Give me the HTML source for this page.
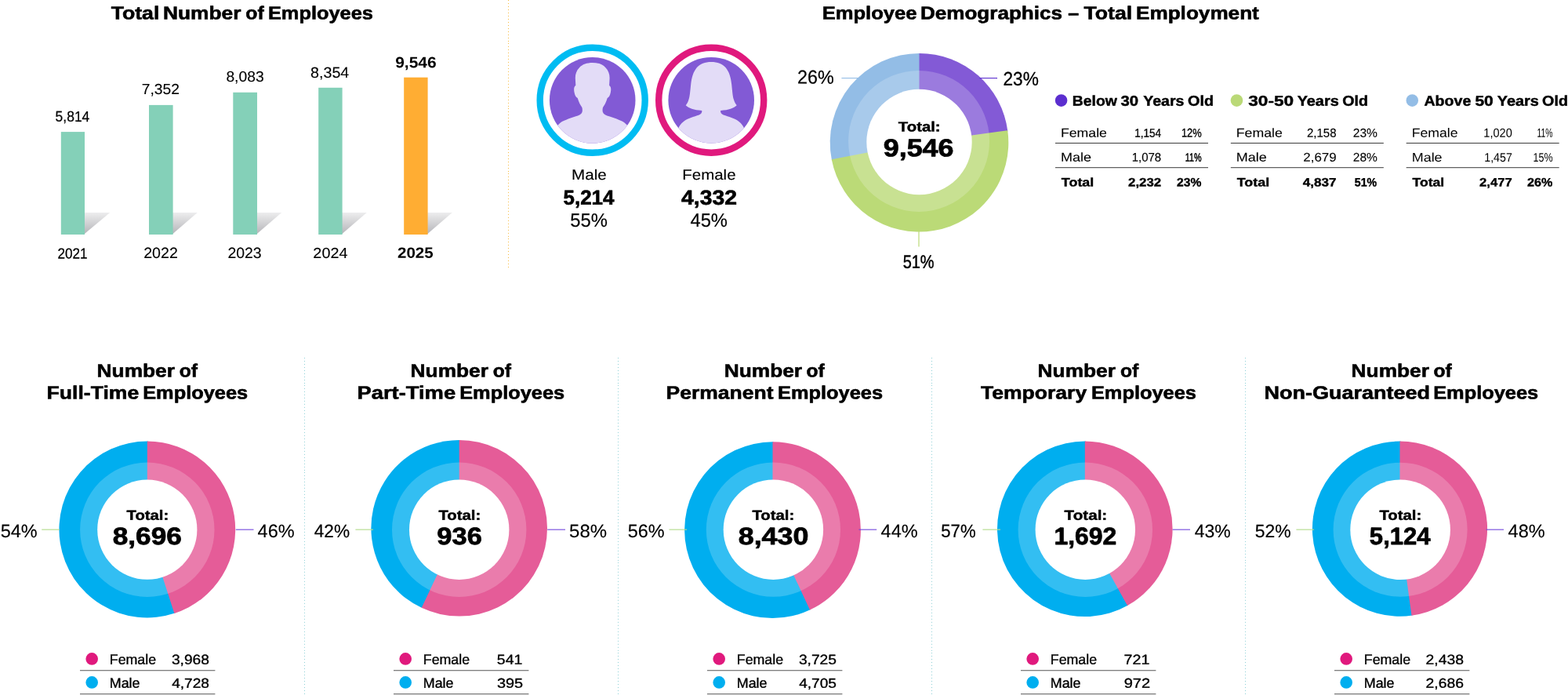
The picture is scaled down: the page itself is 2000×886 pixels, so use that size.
<!DOCTYPE html>
<html lang="en">
<head>
<meta charset="utf-8">
<title>Employee Demographics</title>
<style>
html,body{margin:0;padding:0;background:#fff;}
body{width:2000px;height:886px;overflow:hidden;}
svg{display:block;}
text{font-family:"Liberation Sans",sans-serif;fill:#000;}
</style>
</head>
<body>
<svg width="2000" height="886" viewBox="0 0 2000 886">
<defs>
<linearGradient id="sh" x1="0" y1="0" x2="0" y2="1">
<stop offset="0" stop-color="#EDEDEE"/>
<stop offset="1" stop-color="#B4B4B8"/>
</linearGradient>
</defs>
<rect width="2000" height="886" fill="#fff"/>
<polygon points="107,271 140.3,271 107,298.7" fill="url(#sh)"/>
<rect x="77.8" y="168.1" width="30.2" height="130.9" fill="#84D0B8"/>
<polygon points="219.6,271 251.8,271 219.6,298.7" fill="url(#sh)"/>
<rect x="190" y="133.9" width="30.6" height="165.1" fill="#84D0B8"/>
<polygon points="327,271 359.2,271 327,298.7" fill="url(#sh)"/>
<rect x="297.3" y="117.8" width="30.7" height="181.2" fill="#84D0B8"/>
<polygon points="435.6,271 467.8,271 435.6,298.7" fill="url(#sh)"/>
<rect x="406.2" y="111.8" width="30.4" height="187.2" fill="#84D0B8"/>
<polygon points="544.6,271 576.8,271 544.6,298.7" fill="url(#sh)"/>
<rect x="515.2" y="98.7" width="30.4" height="200.3" fill="#FFAD33"/>
<line x1="648.5" y1="0" x2="648.5" y2="53" stroke="#F8B93A" stroke-width="1" stroke-dasharray="1 3"/><line x1="648.5" y1="54.9" x2="648.5" y2="135.9" stroke="#F8B93A" stroke-width="1" stroke-dasharray="1 3"/><line x1="648.5" y1="138" x2="648.5" y2="219" stroke="#F8B93A" stroke-width="1" stroke-dasharray="1 3"/><line x1="648.5" y1="220.9" x2="648.5" y2="301.9" stroke="#F8B93A" stroke-width="1" stroke-dasharray="1 3"/><line x1="648.5" y1="304" x2="648.5" y2="341" stroke="#F8B93A" stroke-width="1" stroke-dasharray="1 3"/>
<line x1="388.5" y1="456" x2="388.5" y2="489" stroke="#8CCFD6" stroke-width="1" stroke-dasharray="1 3"/><line x1="388.5" y1="490.9" x2="388.5" y2="599.9" stroke="#8CCFD6" stroke-width="1" stroke-dasharray="1 3"/><line x1="388.5" y1="601.9" x2="388.5" y2="714.9" stroke="#8CCFD6" stroke-width="1" stroke-dasharray="1 3"/><line x1="388.5" y1="716.85" x2="388.5" y2="829.85" stroke="#8CCFD6" stroke-width="1" stroke-dasharray="1 3"/><line x1="388.5" y1="832" x2="388.5" y2="885" stroke="#8CCFD6" stroke-width="1" stroke-dasharray="1 3"/>
<line x1="788.5" y1="456" x2="788.5" y2="489" stroke="#8CCFD6" stroke-width="1" stroke-dasharray="1 3"/><line x1="788.5" y1="490.9" x2="788.5" y2="599.9" stroke="#8CCFD6" stroke-width="1" stroke-dasharray="1 3"/><line x1="788.5" y1="601.9" x2="788.5" y2="714.9" stroke="#8CCFD6" stroke-width="1" stroke-dasharray="1 3"/><line x1="788.5" y1="716.85" x2="788.5" y2="829.85" stroke="#8CCFD6" stroke-width="1" stroke-dasharray="1 3"/><line x1="788.5" y1="832" x2="788.5" y2="885" stroke="#8CCFD6" stroke-width="1" stroke-dasharray="1 3"/>
<line x1="1188.5" y1="456" x2="1188.5" y2="489" stroke="#8CCFD6" stroke-width="1" stroke-dasharray="1 3"/><line x1="1188.5" y1="490.9" x2="1188.5" y2="599.9" stroke="#8CCFD6" stroke-width="1" stroke-dasharray="1 3"/><line x1="1188.5" y1="601.9" x2="1188.5" y2="714.9" stroke="#8CCFD6" stroke-width="1" stroke-dasharray="1 3"/><line x1="1188.5" y1="716.85" x2="1188.5" y2="829.85" stroke="#8CCFD6" stroke-width="1" stroke-dasharray="1 3"/><line x1="1188.5" y1="832" x2="1188.5" y2="885" stroke="#8CCFD6" stroke-width="1" stroke-dasharray="1 3"/>
<line x1="1588.5" y1="456" x2="1588.5" y2="489" stroke="#8CCFD6" stroke-width="1" stroke-dasharray="1 3"/><line x1="1588.5" y1="490.9" x2="1588.5" y2="599.9" stroke="#8CCFD6" stroke-width="1" stroke-dasharray="1 3"/><line x1="1588.5" y1="601.9" x2="1588.5" y2="714.9" stroke="#8CCFD6" stroke-width="1" stroke-dasharray="1 3"/><line x1="1588.5" y1="716.85" x2="1588.5" y2="829.85" stroke="#8CCFD6" stroke-width="1" stroke-dasharray="1 3"/><line x1="1588.5" y1="832" x2="1588.5" y2="885" stroke="#8CCFD6" stroke-width="1" stroke-dasharray="1 3"/>
<circle cx="755.7" cy="127.8" r="67" fill="none" stroke="#00BCF2" stroke-width="8.4"/><circle cx="755.7" cy="127.8" r="54.8" fill="#825AD5"/><clipPath id="clip_m"><circle cx="755.7" cy="127.8" r="54.8"/></clipPath><g clip-path="url(#clip_m)"><path transform="translate(755.7,128.4)" d="M0,-48.5 C-7,-48.5 -13,-46.5 -16.5,-42.5 C-20.5,-38.5 -21.9,-34 -21.9,-29 L-21.4,-19.5 C-23.5,-18.5 -24,-15 -23.2,-11 C-22.5,-7 -21,-4.5 -19,-3.5 C-17.5,2 -15,6 -13.3,8.5 C-12.6,11 -12.8,13 -13.2,14.5 C-14,17 -17,18.5 -22,20.2 C-30,23 -38,25.5 -42,29 C-44,30.5 -45,32 -46,34 L-46,60 L46,60 L46,34 C45,32 44,30.5 42,29 C38,25.5 30,23 22,20.2 C17,18.5 14,17 13.2,14.5 C12.8,13 12.6,11 13.3,8.5 C15,6 17.5,2 19,-3.5 C21,-4.5 22.5,-7 23.2,-11 C24,-15 23.5,-18.5 21.4,-19.5 L21.9,-29 C21.9,-34 20.5,-38.5 16.5,-42.5 C13,-46.5 7,-48.5 0,-48.5 Z" fill="#E3DCF7"/></g>
<circle cx="907.2" cy="127.7" r="67" fill="none" stroke="#E0197D" stroke-width="8.4"/><circle cx="907.2" cy="127.7" r="54.8" fill="#825AD5"/><clipPath id="clip_f"><circle cx="907.2" cy="127.7" r="54.8"/></clipPath><g clip-path="url(#clip_f)"><path transform="translate(907.2,127.7)" d="M0,-48.8 C-8,-48.8 -14,-46.5 -18.5,-41.5 C-23,-36 -25,-29 -26,-20 C-27,-10 -27.5,-4 -28.7,-1 C-29.5,2 -31,4.5 -32.5,6.6 C-29,10 -22,12.8 -12,13.2 C-11.5,15.5 -12.5,17.5 -15.5,18.8 C-22,21 -30,23 -35,27 C-39,30 -41,33 -42.5,37 L-44,60 L44,60 L42.5,37 C41,33 39,30 35,27 C30,23 22,21 15.5,18.8 C12.5,17.5 11.5,15.5 12,13.2 C22,12.8 29,10 32.5,6.6 C31,4.5 29.5,2 28.7,-1 C27.5,-4 27,-10 26,-20 C25,-29 23,-36 18.5,-41.5 C14,-46.5 8,-48.8 0,-48.8 Z" fill="#E3DCF7"/></g>
<path d="M1172.5,181.7 L1060.98,204.39 A113.8,113.8 0 0 1 1173.49,67.9 Z" fill="#93BDE6"/><path d="M1172.5,181.7 L1172.5,67.9 A113.8,113.8 0 0 1 1285.4,167.44 Z" fill="#835AD6"/><path d="M1172.5,181.7 L1285.25,166.26 A113.8,113.8 0 0 1 1060.75,203.22 Z" fill="#BBDA77"/><circle cx="1172.1" cy="179.9" r="90" fill="#fff" fill-opacity="0.2"/><circle cx="1172.5" cy="181" r="67.2" fill="#fff"/>
<line x1="1073.4" y1="99.6" x2="1096.5" y2="99.6" stroke="#93BDE6" stroke-width="1.1"/>
<line x1="1249.3" y1="99.6" x2="1272" y2="99.6" stroke="#5B2ECF" stroke-width="1.1"/>
<line x1="1172" y1="294" x2="1172" y2="314.6" stroke="#BBDA77" stroke-width="1.2"/>
<circle cx="1353.6" cy="128.1" r="7.8" fill="#5B2ECF"/>
<line x1="1346" y1="182.45" x2="1541" y2="182.45" stroke="#3a3a3a" stroke-width="1"/>
<line x1="1346" y1="213.7" x2="1541" y2="213.7" stroke="#3a3a3a" stroke-width="1"/>
<circle cx="1577.45" cy="128.1" r="7.8" fill="#BAD977"/>
<line x1="1569.85" y1="182.45" x2="1764.85" y2="182.45" stroke="#3a3a3a" stroke-width="1"/>
<line x1="1569.85" y1="213.7" x2="1764.85" y2="213.7" stroke="#3a3a3a" stroke-width="1"/>
<circle cx="1801.3" cy="128.1" r="7.8" fill="#93BDE6"/>
<line x1="1793.7" y1="182.45" x2="1988.7" y2="182.45" stroke="#3a3a3a" stroke-width="1"/>
<line x1="1793.7" y1="213.7" x2="1988.7" y2="213.7" stroke="#3a3a3a" stroke-width="1"/>
<path d="M187.8,675 L223.47,781.59 A112.4,112.4 0 1 1 188.78,562.6 Z" fill="#00AEEF"/><path d="M187.8,675 L187.8,562.6 A112.4,112.4 0 0 1 222.35,781.96 Z" fill="#E55C98"/><circle cx="187.8" cy="675.2" r="85.7" fill="#fff" fill-opacity="0.2"/><circle cx="187.8" cy="675.2" r="63.6" fill="#fff"/>
<line x1="300.8" y1="675.15" x2="323.5" y2="675.15" stroke="#7044DC" stroke-width="1.1"/>
<line x1="53.2" y1="675.15" x2="75.9" y2="675.15" stroke="#B4DC8E" stroke-width="1.15"/>
<circle cx="117.2" cy="839.9" r="7.8" fill="#E0197D"/>
<circle cx="117.2" cy="869.9" r="7.8" fill="#00AEEF"/>
<line x1="102" y1="854.79" x2="274.4" y2="854.79" stroke="#555" stroke-width="1.07"/>
<line x1="102" y1="884.79" x2="274.4" y2="884.79" stroke="#555" stroke-width="1.07"/>
<path d="M585.7,673.3 L538.77,775.33 A112.3,112.3 0 0 1 586.68,561 Z" fill="#00AEEF"/><path d="M585.7,673.3 L585.7,561 A112.3,112.3 0 1 1 537.71,774.83 Z" fill="#E55C98"/><circle cx="585.7" cy="675.2" r="85.7" fill="#fff" fill-opacity="0.2"/><circle cx="585.7" cy="675.2" r="63.7" fill="#fff"/>
<line x1="698.2" y1="675.15" x2="721" y2="675.15" stroke="#7044DC" stroke-width="1.1"/>
<line x1="453.4" y1="675.15" x2="476" y2="675.15" stroke="#B4DC8E" stroke-width="1.15"/>
<circle cx="517.2" cy="839.9" r="7.8" fill="#E0197D"/>
<circle cx="517.2" cy="869.9" r="7.8" fill="#00AEEF"/>
<line x1="502" y1="854.79" x2="674.4" y2="854.79" stroke="#555" stroke-width="1.07"/>
<line x1="502" y1="884.79" x2="674.4" y2="884.79" stroke="#555" stroke-width="1.07"/>
<path d="M985.5,675.7 L1034.07,777.07 A112.4,112.4 0 1 1 986.48,563.3 Z" fill="#00AEEF"/><path d="M985.5,675.7 L985.5,563.3 A112.4,112.4 0 0 1 1033,777.57 Z" fill="#E55C98"/><circle cx="986.4" cy="675.2" r="85.6" fill="#fff" fill-opacity="0.2"/><circle cx="986.4" cy="675.2" r="63.7" fill="#fff"/>
<line x1="1095.5" y1="675.15" x2="1118.2" y2="675.15" stroke="#7044DC" stroke-width="1.1"/>
<line x1="853.4" y1="675.15" x2="876" y2="675.15" stroke="#B4DC8E" stroke-width="1.15"/>
<circle cx="917.2" cy="839.9" r="7.8" fill="#E0197D"/>
<circle cx="917.2" cy="869.9" r="7.8" fill="#00AEEF"/>
<line x1="902" y1="854.79" x2="1074.4" y2="854.79" stroke="#555" stroke-width="1.07"/>
<line x1="902" y1="884.79" x2="1074.4" y2="884.79" stroke="#555" stroke-width="1.07"/>
<path d="M1383.8,674.3 L1439.02,771.51 A111.8,111.8 0 1 1 1384.78,562.5 Z" fill="#00AEEF"/><path d="M1383.8,674.3 L1383.8,562.5 A111.8,111.8 0 0 1 1438,772.08 Z" fill="#E55C98"/><circle cx="1384.3" cy="675.2" r="85.7" fill="#fff" fill-opacity="0.2"/><circle cx="1384.3" cy="675.2" r="63.7" fill="#fff"/>
<line x1="1495.6" y1="675.15" x2="1518" y2="675.15" stroke="#7044DC" stroke-width="1.1"/>
<line x1="1253.4" y1="675.15" x2="1276" y2="675.15" stroke="#B4DC8E" stroke-width="1.15"/>
<circle cx="1317.2" cy="839.9" r="7.8" fill="#E0197D"/>
<circle cx="1317.2" cy="869.9" r="7.8" fill="#00AEEF"/>
<line x1="1302" y1="854.79" x2="1474.4" y2="854.79" stroke="#555" stroke-width="1.07"/>
<line x1="1302" y1="884.79" x2="1474.4" y2="884.79" stroke="#555" stroke-width="1.07"/>
<path d="M1785.5,674.1 L1801.61,784.53 A111.6,111.6 0 1 1 1786.47,562.5 Z" fill="#00AEEF"/><path d="M1785.5,674.1 L1785.5,562.5 A111.6,111.6 0 0 1 1800.45,784.69 Z" fill="#E55C98"/><circle cx="1786.1" cy="675.2" r="85.5" fill="#fff" fill-opacity="0.2"/><circle cx="1786.1" cy="675.2" r="63.8" fill="#fff"/>
<line x1="1895.6" y1="675.15" x2="1918" y2="675.15" stroke="#7044DC" stroke-width="1.1"/>
<line x1="1653.4" y1="675.15" x2="1676" y2="675.15" stroke="#B4DC8E" stroke-width="1.15"/>
<circle cx="1717.2" cy="839.9" r="7.8" fill="#E0197D"/>
<circle cx="1717.2" cy="869.9" r="7.8" fill="#00AEEF"/>
<line x1="1702" y1="854.79" x2="1874.4" y2="854.79" stroke="#555" stroke-width="1.07"/>
<line x1="1702" y1="884.79" x2="1874.4" y2="884.79" stroke="#555" stroke-width="1.07"/>
<text transform="matrix(1.1423,0.001,0,1,141.68,24.48)" font-size="23.33" font-weight="700" stroke="#000" stroke-width="0.58" stroke-linejoin="round">Total</text>
<text transform="matrix(1.1286,0.001,0,1,207.98,24.46)" font-size="23.33" font-weight="700" stroke="#000" stroke-width="0.58" stroke-linejoin="round">Number</text>
<text transform="matrix(1.0642,0.001,0,1,313.32,24.5)" font-size="23.33" font-weight="700" stroke="#000" stroke-width="0.58" stroke-linejoin="round">of</text>
<text transform="matrix(1.0883,0.001,0,1,341.94,24.45)" font-size="23.33" font-weight="700" stroke="#000" stroke-width="0.58" stroke-linejoin="round">Employees</text>
<text transform="matrix(0.9294,0.001,0,1,70.62,154.85)" font-size="18.79" stroke="#000" stroke-width="0.24" stroke-linejoin="round">5,814</text>
<text transform="matrix(1.0156,0.001,0,1,180.79,119.92)" font-size="18.98" stroke="#000" stroke-width="0.11" stroke-linejoin="round">7,352</text>
<text transform="matrix(1.0181,0.001,0,1,288.38,103.92)" font-size="18.98" stroke="#000" stroke-width="0.11" stroke-linejoin="round">8,083</text>
<text transform="matrix(1.0300,0.001,0,1,396.07,98.92)" font-size="19.12" stroke="#000" stroke-width="0.11" stroke-linejoin="round">8,354</text>
<text transform="matrix(1.0738,0.001,0,1,504.17,86.28)" font-size="19.57" font-weight="700">9,546</text>
<text transform="matrix(0.9127,0.001,0,1,73.48,329.44)" font-size="18.75" stroke="#000" stroke-width="0.27" stroke-linejoin="round">2021</text>
<text transform="matrix(1.0191,0.001,0,1,183.18,328.92)" font-size="19.26" stroke="#000" stroke-width="0.12" stroke-linejoin="round">2022</text>
<text transform="matrix(1.0118,0.001,0,1,290.38,328.92)" font-size="19.26" stroke="#000" stroke-width="0.12" stroke-linejoin="round">2023</text>
<text transform="matrix(1.0443,0.001,0,1,399.37,329.02)" font-size="18.98" stroke="#000" stroke-width="0.11" stroke-linejoin="round">2024</text>
<text transform="matrix(1.0744,0.001,0,1,506.98,328.78)" font-size="19.14" font-weight="700">2025</text>
<text transform="matrix(1.0966,0.001,0,1,1048.63,24.45)" font-size="23.33" font-weight="700" stroke="#000" stroke-width="0.58" stroke-linejoin="round">Employee</text>
<text transform="matrix(1.1183,0.001,0,1,1173.9,24.43)" font-size="23.33" font-weight="700" stroke="#000" stroke-width="0.58" stroke-linejoin="round">Demographics</text>
<text transform="matrix(1.0729,0.001,0,1,1362.24,24.5)" font-size="23.33" font-weight="700" stroke="#000" stroke-width="0.58" stroke-linejoin="round">–</text>
<text transform="matrix(1.1443,0.001,0,1,1382.52,24.48)" font-size="23.33" font-weight="700" stroke="#000" stroke-width="0.58" stroke-linejoin="round">Total</text>
<text transform="matrix(1.1207,0.001,0,1,1448.99,24.44)" font-size="23.33" font-weight="700" stroke="#000" stroke-width="0.58" stroke-linejoin="round">Employment</text>
<text transform="matrix(1.1211,0.001,0,1,729.11,228.92)" font-size="18.39" stroke="#000" stroke-width="0.11" stroke-linejoin="round">Male</text>
<text transform="matrix(1.1150,0.001,0,1,870.21,228.91)" font-size="18.39" stroke="#000" stroke-width="0.11" stroke-linejoin="round">Female</text>
<text transform="matrix(0.9889,0.001,0,1,718.55,260.64)" font-size="26.21" font-weight="700" stroke="#000" stroke-width="0.66" stroke-linejoin="round">5,214</text>
<text transform="matrix(1.0810,0.001,0,1,869.1,260.64)" font-size="26.21" font-weight="700" stroke="#000" stroke-width="0.66" stroke-linejoin="round">4,332</text>
<text transform="matrix(0.9804,0.001,0,1,727.34,289.08)" font-size="24.3" stroke="#000" stroke-width="0.19" stroke-linejoin="round">55%</text>
<text transform="matrix(0.9789,0.001,0,1,880.42,289.08)" font-size="24.29" stroke="#000" stroke-width="0.2" stroke-linejoin="round">45%</text>
<text transform="matrix(0.9607,0.001,0,1,1016.95,106.61)" font-size="24.3" stroke="#000" stroke-width="0.24" stroke-linejoin="round">26%</text>
<text transform="matrix(0.9293,0.001,0,1,1279.42,108.82)" font-size="24.4" stroke="#000" stroke-width="0.32" stroke-linejoin="round">23%</text>
<text transform="matrix(0.8474,0.001,0,1,1151.65,341.73)" font-size="23.57" stroke="#000" stroke-width="0.5" stroke-linejoin="round">51%</text>
<text transform="matrix(1.1532,0.001,0,1,1145.82,167.46)" font-size="17.64" font-weight="700" stroke="#000" stroke-width="0.44" stroke-linejoin="round">Total:</text>
<text transform="matrix(1.1409,0.001,0,1,1126.72,199.17)" font-size="31.45" font-weight="700" stroke="#000" stroke-width="0.79" stroke-linejoin="round">9,546</text>
<text transform="matrix(1.0569,0.001,0,1,1367.87,134.64)" font-size="18.33" font-weight="700" stroke="#000" stroke-width="0.46" stroke-linejoin="round">Below</text>
<text transform="matrix(1.1152,0.001,0,1,1429.52,134.66)" font-size="18.21" font-weight="700" stroke="#000" stroke-width="0.46" stroke-linejoin="round">30</text>
<text transform="matrix(1.0654,0.001,0,1,1458.24,134.65)" font-size="18.33" font-weight="700" stroke="#000" stroke-width="0.46" stroke-linejoin="round">Years</text>
<text transform="matrix(1.0814,0.001,0,1,1515.04,134.66)" font-size="18.33" font-weight="700" stroke="#000" stroke-width="0.46" stroke-linejoin="round">Old</text>
<text transform="matrix(1.2329,0.001,0,1,1592.28,134.65)" font-size="18.33" font-weight="700" stroke="#000" stroke-width="0.46" stroke-linejoin="round">30-50</text>
<text transform="matrix(1.0862,0.001,0,1,1654.63,134.65)" font-size="18.33" font-weight="700" stroke="#000" stroke-width="0.46" stroke-linejoin="round">Years</text>
<text transform="matrix(1.0744,0.001,0,1,1712.24,134.66)" font-size="18.33" font-weight="700" stroke="#000" stroke-width="0.46" stroke-linejoin="round">Old</text>
<text transform="matrix(1.0699,0.001,0,1,1816.44,134.64)" font-size="18.33" font-weight="700" stroke="#000" stroke-width="0.46" stroke-linejoin="round">Above</text>
<text transform="matrix(1.1574,0.001,0,1,1881.4,134.66)" font-size="18.21" font-weight="700" stroke="#000" stroke-width="0.46" stroke-linejoin="round">50</text>
<text transform="matrix(1.0862,0.001,0,1,1909.73,134.65)" font-size="18.33" font-weight="700" stroke="#000" stroke-width="0.46" stroke-linejoin="round">Years</text>
<text transform="matrix(1.0779,0.001,0,1,1967.04,134.66)" font-size="18.33" font-weight="700" stroke="#000" stroke-width="0.46" stroke-linejoin="round">Old</text>
<text transform="matrix(1.1104,0.001,0,1,1352.93,174.73)" font-size="15.95" stroke="#000" stroke-width="0.1" stroke-linejoin="round">Female</text>
<text transform="matrix(0.8763,0.001,0,1,1447.13,174.64)" font-size="15.45" stroke="#000" stroke-width="0.28" stroke-linejoin="round">1,154</text>
<text transform="matrix(0.8375,0.001,0,1,1506.9,174.61)" font-size="15.37" stroke="#000" stroke-width="0.34" stroke-linejoin="round">12%</text>
<text transform="matrix(1.1411,0.001,0,1,1352.9,205.84)" font-size="15.8" stroke="#000" stroke-width="0.09" stroke-linejoin="round">Male</text>
<text transform="matrix(0.9662,0.001,0,1,1443.65,205.81)" font-size="15.51" stroke="#000" stroke-width="0.14" stroke-linejoin="round">1,078</text>
<text transform="matrix(0.7190,0.001,0,1,1511.75,205.63)" font-size="14.99" stroke="#000" stroke-width="0.51" stroke-linejoin="round">11%</text>
<text transform="matrix(1.1741,0.001,0,1,1353.81,237.49)" font-size="15.28" font-weight="700" stroke="#000" stroke-width="0.38" stroke-linejoin="round">Total</text>
<text transform="matrix(1.1070,0.001,0,1,1439.09,237.49)" font-size="15.17" font-weight="700" stroke="#000" stroke-width="0.38" stroke-linejoin="round">2,232</text>
<text transform="matrix(1.0330,0.001,0,1,1501.02,237.5)" font-size="15.17" font-weight="700" stroke="#000" stroke-width="0.38" stroke-linejoin="round">23%</text>
<text transform="matrix(1.1104,0.001,0,1,1576.78,174.73)" font-size="15.95" stroke="#000" stroke-width="0.1" stroke-linejoin="round">Female</text>
<text transform="matrix(0.9613,0.001,0,1,1666.93,174.7)" font-size="15.64" stroke="#000" stroke-width="0.15" stroke-linejoin="round">2,158</text>
<text transform="matrix(0.9927,0.001,0,1,1725.77,174.73)" font-size="15.71" stroke="#000" stroke-width="0.11" stroke-linejoin="round">23%</text>
<text transform="matrix(1.1411,0.001,0,1,1576.75,205.84)" font-size="15.8" stroke="#000" stroke-width="0.09" stroke-linejoin="round">Male</text>
<text transform="matrix(1.0884,0.001,0,1,1662.3,205.83)" font-size="15.58" stroke="#000" stroke-width="0.09" stroke-linejoin="round">2,679</text>
<text transform="matrix(1.0011,0.001,0,1,1725.77,205.84)" font-size="15.58" stroke="#000" stroke-width="0.09" stroke-linejoin="round">28%</text>
<text transform="matrix(1.1741,0.001,0,1,1577.66,237.49)" font-size="15.28" font-weight="700" stroke="#000" stroke-width="0.38" stroke-linejoin="round">Total</text>
<text transform="matrix(1.1294,0.001,0,1,1661.73,237.49)" font-size="15.17" font-weight="700" stroke="#000" stroke-width="0.38" stroke-linejoin="round">4,837</text>
<text transform="matrix(0.9349,0.001,0,1,1727.86,237.5)" font-size="15.17" font-weight="700" stroke="#000" stroke-width="0.38" stroke-linejoin="round">51%</text>
<text transform="matrix(1.0988,0.001,0,1,1800.69,174.77)" font-size="16.09">Female</text>
<text transform="matrix(0.9177,0.001,0,1,1892.31,174.78)" font-size="15.86">1,020</text>
<text transform="matrix(0.6521,0.001,0,1,1960.62,174.78)" font-size="15.86">11%</text>
<text transform="matrix(1.1281,0.001,0,1,1800.66,205.88)" font-size="15.94">Male</text>
<text transform="matrix(0.9059,0.001,0,1,1893.23,205.88)" font-size="15.71">1,457</text>
<text transform="matrix(0.7970,0.001,0,1,1955.56,205.88)" font-size="15.71">15%</text>
<text transform="matrix(1.1506,0.001,0,1,1801.52,237.49)" font-size="15.28" font-weight="700" stroke="#000" stroke-width="0.38" stroke-linejoin="round">Total</text>
<text transform="matrix(1.0958,0.001,0,1,1887.09,237.49)" font-size="15.17" font-weight="700" stroke="#000" stroke-width="0.38" stroke-linejoin="round">2,477</text>
<text transform="matrix(1.0635,0.001,0,1,1948.01,237.5)" font-size="15.17" font-weight="700" stroke="#000" stroke-width="0.38" stroke-linejoin="round">26%</text>
<text transform="matrix(1.1275,0.001,0,1,123.58,480.46)" font-size="23.33" font-weight="700" stroke="#000" stroke-width="0.58" stroke-linejoin="round">Number</text>
<text transform="matrix(1.0548,0.001,0,1,228.83,480.5)" font-size="23.33" font-weight="700" stroke="#000" stroke-width="0.58" stroke-linejoin="round">of</text>
<text transform="matrix(1.1394,0.001,0,1,59.56,508.46)" font-size="23.33" font-weight="700" stroke="#000" stroke-width="0.58" stroke-linejoin="round">Full-Time</text>
<text transform="matrix(1.0883,0.001,0,1,182.14,508.45)" font-size="23.33" font-weight="700" stroke="#000" stroke-width="0.58" stroke-linejoin="round">Employees</text>
<text transform="matrix(0.9988,0.001,0,1,0.73,684.9)" font-size="23.51" stroke="#000" stroke-width="0.14" stroke-linejoin="round">54%</text>
<text transform="matrix(1.0016,0.001,0,1,328.6,684.91)" font-size="23.51" stroke="#000" stroke-width="0.14" stroke-linejoin="round">46%</text>
<text transform="matrix(1.1602,0.001,0,1,161.52,662.76)" font-size="17.5" font-weight="700" stroke="#000" stroke-width="0.44" stroke-linejoin="round">Total:</text>
<text transform="matrix(1.1402,0.001,0,1,143.73,693.98)" font-size="30.9" font-weight="700" stroke="#000" stroke-width="0.77" stroke-linejoin="round">8,696</text>
<text transform="matrix(0.9959,0.001,0,1,139.75,846.79)" font-size="17.89" stroke="#000" stroke-width="0.36" stroke-linejoin="round">Female</text>
<text transform="matrix(1.0091,0.001,0,1,139.74,876.8)" font-size="17.75" stroke="#000" stroke-width="0.35" stroke-linejoin="round">Male</text>
<text transform="matrix(1.0987,0.001,0,1,218.9,846.8)" font-size="17.5" stroke="#000" stroke-width="0.35" stroke-linejoin="round">3,968</text>
<text transform="matrix(1.1097,0.001,0,1,219.19,876.81)" font-size="17.22" stroke="#000" stroke-width="0.34" stroke-linejoin="round">4,728</text>
<text transform="matrix(1.1275,0.001,0,1,523.58,480.46)" font-size="23.33" font-weight="700" stroke="#000" stroke-width="0.58" stroke-linejoin="round">Number</text>
<text transform="matrix(1.0548,0.001,0,1,628.83,480.5)" font-size="23.33" font-weight="700" stroke="#000" stroke-width="0.58" stroke-linejoin="round">of</text>
<text transform="matrix(1.1730,0.001,0,1,455.51,508.45)" font-size="23.33" font-weight="700" stroke="#000" stroke-width="0.58" stroke-linejoin="round">Part-Time</text>
<text transform="matrix(1.0883,0.001,0,1,586.14,508.45)" font-size="23.33" font-weight="700" stroke="#000" stroke-width="0.58" stroke-linejoin="round">Employees</text>
<text transform="matrix(0.9693,0.001,0,1,400.65,684.87)" font-size="23.41" stroke="#000" stroke-width="0.21" stroke-linejoin="round">42%</text>
<text transform="matrix(1.0208,0.001,0,1,726.11,684.91)" font-size="23.51" stroke="#000" stroke-width="0.14" stroke-linejoin="round">58%</text>
<text transform="matrix(1.1625,0.001,0,1,559.42,662.76)" font-size="17.5" font-weight="700" stroke="#000" stroke-width="0.44" stroke-linejoin="round">Total:</text>
<text transform="matrix(1.1156,0.001,0,1,557.35,693.99)" font-size="30.9" font-weight="700" stroke="#000" stroke-width="0.77" stroke-linejoin="round">936</text>
<text transform="matrix(0.9959,0.001,0,1,539.75,846.79)" font-size="17.89" stroke="#000" stroke-width="0.36" stroke-linejoin="round">Female</text>
<text transform="matrix(1.0091,0.001,0,1,539.74,876.8)" font-size="17.75" stroke="#000" stroke-width="0.35" stroke-linejoin="round">Male</text>
<text transform="matrix(1.1141,0.001,0,1,633.8,846.81)" font-size="17.5" stroke="#000" stroke-width="0.35" stroke-linejoin="round">541</text>
<text transform="matrix(1.1543,0.001,0,1,633.88,876.81)" font-size="17.22" stroke="#000" stroke-width="0.34" stroke-linejoin="round">395</text>
<text transform="matrix(1.1275,0.001,0,1,923.68,480.46)" font-size="23.33" font-weight="700" stroke="#000" stroke-width="0.58" stroke-linejoin="round">Number</text>
<text transform="matrix(1.0548,0.001,0,1,1028.43,480.5)" font-size="23.33" font-weight="700" stroke="#000" stroke-width="0.58" stroke-linejoin="round">of</text>
<text transform="matrix(1.1356,0.001,0,1,849.57,508.45)" font-size="23.33" font-weight="700" stroke="#000" stroke-width="0.58" stroke-linejoin="round">Permanent</text>
<text transform="matrix(1.0883,0.001,0,1,992.04,508.45)" font-size="23.33" font-weight="700" stroke="#000" stroke-width="0.58" stroke-linejoin="round">Employees</text>
<text transform="matrix(0.9988,0.001,0,1,800.73,684.9)" font-size="23.51" stroke="#000" stroke-width="0.14" stroke-linejoin="round">56%</text>
<text transform="matrix(1.0016,0.001,0,1,1123.6,684.91)" font-size="23.51" stroke="#000" stroke-width="0.14" stroke-linejoin="round">44%</text>
<text transform="matrix(1.1625,0.001,0,1,959.42,662.76)" font-size="17.5" font-weight="700" stroke="#000" stroke-width="0.44" stroke-linejoin="round">Total:</text>
<text transform="matrix(1.1615,0.001,0,1,941.71,693.98)" font-size="30.9" font-weight="700" stroke="#000" stroke-width="0.77" stroke-linejoin="round">8,430</text>
<text transform="matrix(0.9959,0.001,0,1,939.75,846.79)" font-size="17.89" stroke="#000" stroke-width="0.36" stroke-linejoin="round">Female</text>
<text transform="matrix(1.0091,0.001,0,1,939.74,876.8)" font-size="17.75" stroke="#000" stroke-width="0.35" stroke-linejoin="round">Male</text>
<text transform="matrix(1.0987,0.001,0,1,1018.9,846.8)" font-size="17.5" stroke="#000" stroke-width="0.35" stroke-linejoin="round">3,725</text>
<text transform="matrix(1.1097,0.001,0,1,1019.19,876.81)" font-size="17.22" stroke="#000" stroke-width="0.34" stroke-linejoin="round">4,705</text>
<text transform="matrix(1.1275,0.001,0,1,1323.58,480.46)" font-size="23.33" font-weight="700" stroke="#000" stroke-width="0.58" stroke-linejoin="round">Number</text>
<text transform="matrix(1.0548,0.001,0,1,1428.93,480.5)" font-size="23.33" font-weight="700" stroke="#000" stroke-width="0.58" stroke-linejoin="round">of</text>
<text transform="matrix(1.1375,0.001,0,1,1251.03,508.45)" font-size="23.33" font-weight="700" stroke="#000" stroke-width="0.58" stroke-linejoin="round">Temporary</text>
<text transform="matrix(1.0883,0.001,0,1,1391.94,508.45)" font-size="23.33" font-weight="700" stroke="#000" stroke-width="0.58" stroke-linejoin="round">Employees</text>
<text transform="matrix(0.9499,0.001,0,1,1200.24,684.85)" font-size="23.35" stroke="#000" stroke-width="0.26" stroke-linejoin="round">57%</text>
<text transform="matrix(0.9814,0.001,0,1,1523.63,684.88)" font-size="23.45" stroke="#000" stroke-width="0.18" stroke-linejoin="round">43%</text>
<text transform="matrix(1.1804,0.001,0,1,1357.61,662.76)" font-size="17.5" font-weight="700" stroke="#000" stroke-width="0.44" stroke-linejoin="round">Total:</text>
<text transform="matrix(1.0334,0.001,0,1,1344.47,693.98)" font-size="30.9" font-weight="700" stroke="#000" stroke-width="0.77" stroke-linejoin="round">1,692</text>
<text transform="matrix(0.9959,0.001,0,1,1339.75,846.79)" font-size="17.89" stroke="#000" stroke-width="0.36" stroke-linejoin="round">Female</text>
<text transform="matrix(1.0091,0.001,0,1,1339.74,876.8)" font-size="17.75" stroke="#000" stroke-width="0.35" stroke-linejoin="round">Male</text>
<text transform="matrix(1.1212,0.001,0,1,1433.59,846.81)" font-size="17.5" stroke="#000" stroke-width="0.35" stroke-linejoin="round">721</text>
<text transform="matrix(1.1653,0.001,0,1,1433.67,876.81)" font-size="17.22" stroke="#000" stroke-width="0.34" stroke-linejoin="round">972</text>
<text transform="matrix(1.1275,0.001,0,1,1723.58,480.46)" font-size="23.33" font-weight="700" stroke="#000" stroke-width="0.58" stroke-linejoin="round">Number</text>
<text transform="matrix(1.0548,0.001,0,1,1828.53,480.5)" font-size="23.33" font-weight="700" stroke="#000" stroke-width="0.58" stroke-linejoin="round">of</text>
<text transform="matrix(1.1584,0.001,0,1,1612.43,508.42)" font-size="23.33" font-weight="700" stroke="#000" stroke-width="0.58" stroke-linejoin="round">Non-Guaranteed</text>
<text transform="matrix(1.0883,0.001,0,1,1828.14,508.45)" font-size="23.33" font-weight="700" stroke="#000" stroke-width="0.58" stroke-linejoin="round">Employees</text>
<text transform="matrix(0.9785,0.001,0,1,1600.78,684.88)" font-size="23.44" stroke="#000" stroke-width="0.19" stroke-linejoin="round">52%</text>
<text transform="matrix(1.0016,0.001,0,1,1923.6,684.91)" font-size="23.51" stroke="#000" stroke-width="0.14" stroke-linejoin="round">48%</text>
<text transform="matrix(1.1625,0.001,0,1,1759.42,662.76)" font-size="17.5" font-weight="700" stroke="#000" stroke-width="0.44" stroke-linejoin="round">Total:</text>
<text transform="matrix(1.0062,0.001,0,1,1746.85,693.98)" font-size="30.9" font-weight="700" stroke="#000" stroke-width="0.77" stroke-linejoin="round">5,124</text>
<text transform="matrix(0.9959,0.001,0,1,1739.75,846.79)" font-size="17.89" stroke="#000" stroke-width="0.36" stroke-linejoin="round">Female</text>
<text transform="matrix(1.0091,0.001,0,1,1739.74,876.8)" font-size="17.75" stroke="#000" stroke-width="0.35" stroke-linejoin="round">Male</text>
<text transform="matrix(1.1055,0.001,0,1,1818.61,846.8)" font-size="17.5" stroke="#000" stroke-width="0.35" stroke-linejoin="round">2,438</text>
<text transform="matrix(1.1235,0.001,0,1,1818.6,876.81)" font-size="17.22" stroke="#000" stroke-width="0.34" stroke-linejoin="round">2,686</text>
</svg>
</body>
</html>
